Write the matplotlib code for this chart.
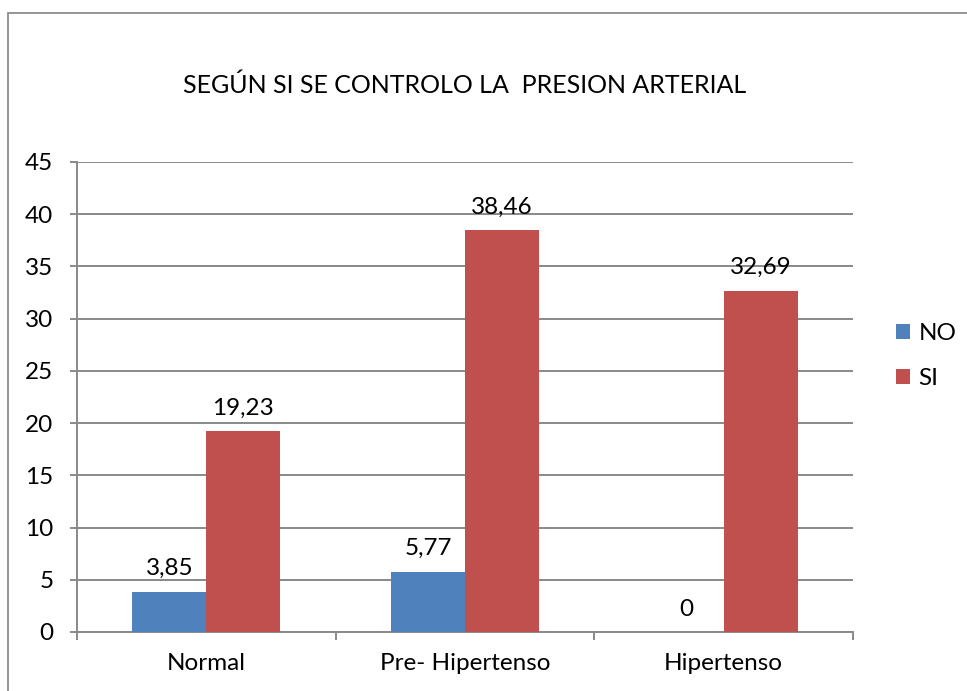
import matplotlib.pyplot as plt
import numpy as np
from matplotlib.patches import Rectangle

categories = ["Normal", "Pre- Hipertenso", "Hipertenso"]
no_values = [3.85, 5.77, 0]
si_values = [19.23, 38.46, 32.69]
series_names = ["NO", "SI"]
y_ticks = [0, 5, 10, 15, 20, 25, 30, 35, 40, 45]

plt.rcParams['font.family'] = ['Lato', 'DejaVu Sans']
blue = "#4F81BD"
red = "#C0504D"
grid_gray = "#898989"
fs = 17.5

fig = plt.figure(figsize=(9.67, 6.91), dpi=100)
ax = fig.add_axes([77 / 967, 59 / 691, 776 / 967, 470 / 691])

# outer chart border (clipped on right/bottom like the original)
fig.patches.append(Rectangle((8 / 967, -0.1), 1.2, 1.1 - 13 / 691,
                             transform=fig.transFigure, fill=False,
                             edgecolor="#8c8c8c", lw=1.3))

x = np.arange(len(categories))
w = 0.286
bars_no = ax.bar(x - w / 2, no_values, w, color=blue, label=series_names[0], zorder=3)
bars_si = ax.bar(x + w / 2, si_values, w, color=red, label=series_names[1], zorder=3)

for bars, vals in [(bars_no, no_values), (bars_si, si_values)]:
    for b, v in zip(bars, vals):
        txt = f"{v:.2f}".replace(".", ",") if v != 0 else "0"
        ax.annotate(txt, (b.get_x() + b.get_width() / 2, v), xytext=(0, 9),
                    textcoords="offset points", ha="center", va="bottom",
                    fontsize=fs)

ax.set_xlim(-0.5, 2.5)
ax.set_ylim(0, 45)
ax.set_yticks(y_ticks)
ax.yaxis.grid(True, color=grid_gray, lw=1.4, zorder=0)
ax.set_axisbelow(True)

ax.set_xticks(x)
ax.set_xticklabels(categories, fontsize=fs)
ax.set_xticks([-0.5, 0.5, 1.5, 2.5], minor=True)
ax.tick_params(axis="x", which="major", length=0, pad=15)
ax.tick_params(axis="x", which="minor", length=6, width=1.4, color=grid_gray, direction="out")
ax.tick_params(axis="y", length=5, width=1.4, color=grid_gray, labelsize=fs, pad=12)

for s in ["top", "right"]:
    ax.spines[s].set_visible(False)
for s in ["left", "bottom"]:
    ax.spines[s].set_color(grid_gray)
    ax.spines[s].set_linewidth(1.4)

fig.text(465 / 967, 1 - 85 / 691, "SEGÚN SI SE CONTROLO LA  PRESION ARTERIAL",
         ha="center", va="center", fontsize=18)

leg = fig.legend(handles=[bars_no, bars_si], labels=series_names,
                 loc="center left", bbox_to_anchor=(896 / 967, 1 - 356 / 691),
                 frameon=False, fontsize=fs, handlelength=0.58, handleheight=0.58,
                 labelspacing=1.0, handletextpad=0.35, borderpad=0, borderaxespad=0)

fig.savefig("out.png", dpi=100)
